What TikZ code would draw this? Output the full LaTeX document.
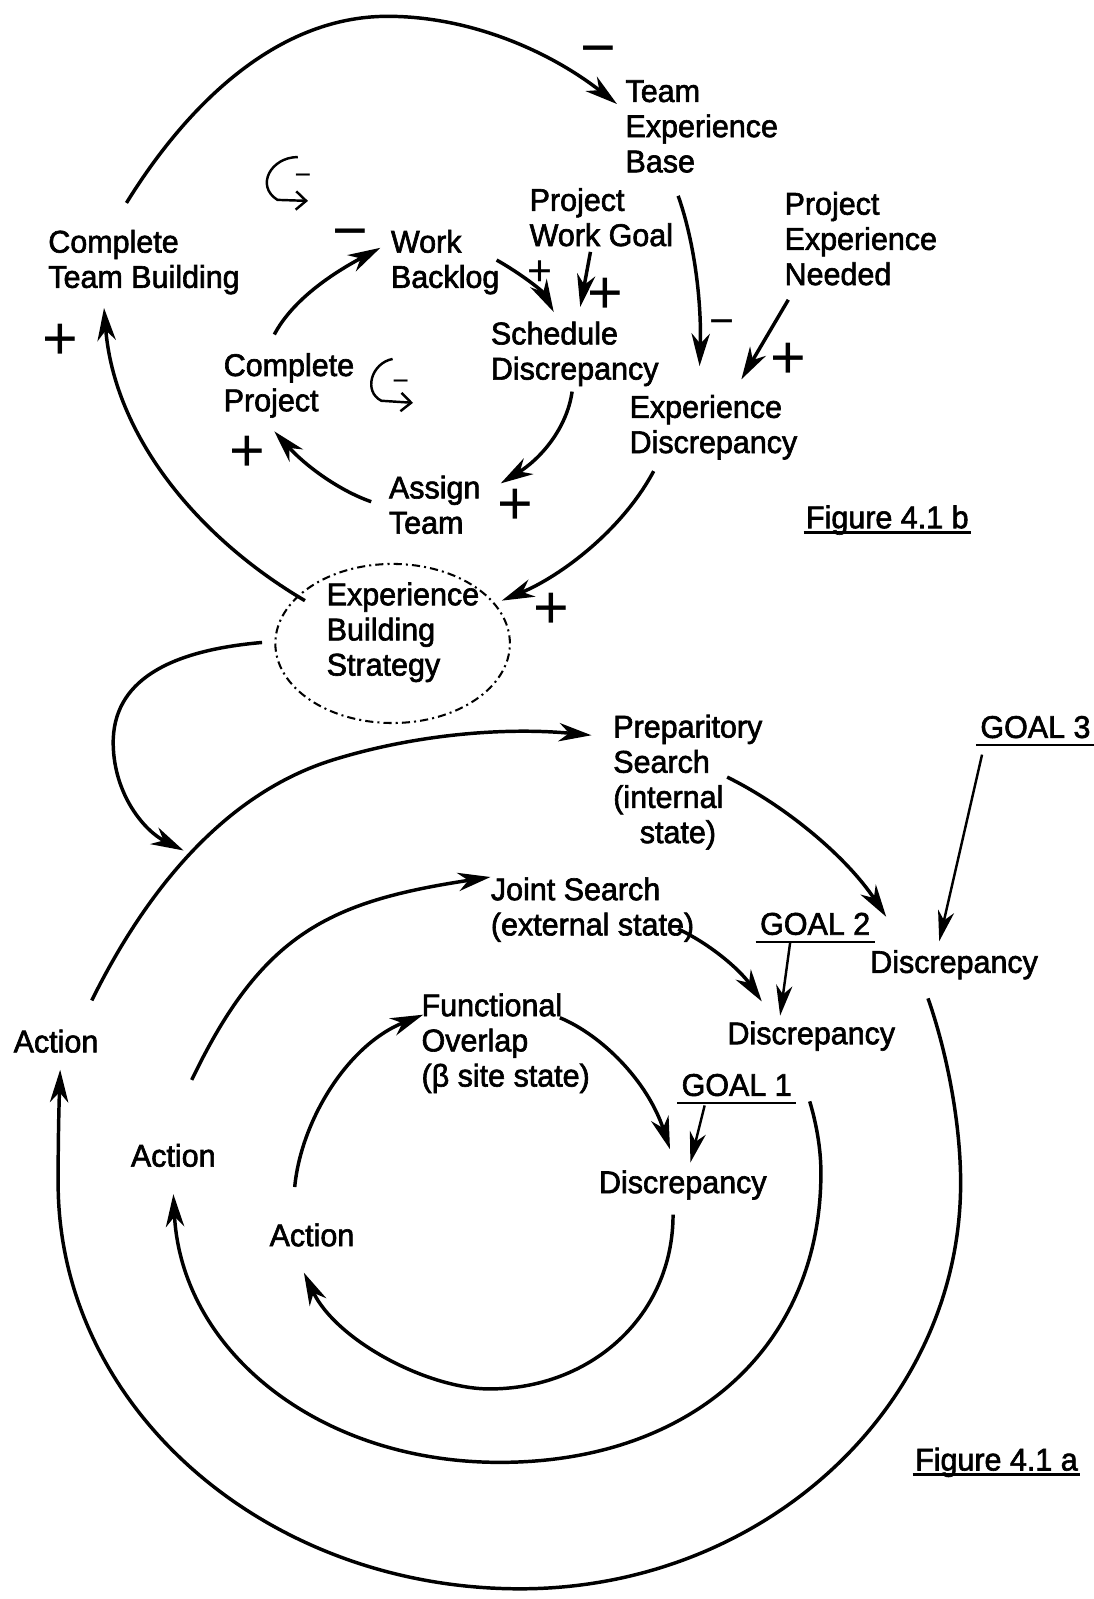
\documentclass[tikz,border=0pt]{standalone}
\usepackage{fontspec}
\newfontfamily\lblf{Liberation Sans}[FakeStretch=0.97,FakeBold=2]
\newfontfamily\sgnf{Liberation Sans}
\usetikzlibrary{arrows.meta,shapes.geometric}
\begin{document}
\begin{tikzpicture}[x=0.5pt,y=-0.5pt,
  lbl/.style={font=\lblf\fontsize{15.4}{17.25}\selectfont, align=left, anchor=west, inner sep=0pt},
  sg/.style={font=\sgnf\fontsize{30}{30}\selectfont, inner sep=0pt},
  sgs/.style={font=\sgnf\fontsize{21}{21}\selectfont, inner sep=0pt},
  sgt/.style={font=\sgnf\fontsize{14}{14}\selectfont, inner sep=0pt},
  cn/.style={line width=1.7pt, -{Stealth[length=16pt,width=9pt,inset=5pt]}},
  cnt/.style={line width=1.2pt, -{Stealth[length=15pt,width=8pt,inset=4.5pt]}},
  ul/.style={line width=1.2pt},
  lp/.style={line width=1.2pt, -{Straight Barb[length=5pt,width=9pt]}},
  ell/.style={draw, ellipse, line width=1pt, dash pattern=on 4pt off 2pt on 1pt off 2pt, minimum width=115pt, minimum height=78pt}
]
\useasboundingbox (0,0) rectangle (1072,1568);

% ---------- Figure 4.1 b ----------
\node[lbl] (teb) at (613,124) {Team\\Experience\\Base};
\node[lbl] (ctb) at (47,257) {Complete\\Team Building};
\node[lbl] (wb) at (383,257) {Work\\Backlog};
\node[lbl] (pwg) at (519,213) {Project\\Work Goal};
\node[lbl] (pen) at (769,234) {Project\\Experience\\Needed};
\node[lbl] (sd) at (481,347) {Schedule\\Discrepancy};
\node[lbl] (ed) at (617,419) {Experience\\Discrepancy};
\node[lbl] (cp) at (219,378) {Complete\\Project};
\node[lbl] (at) at (381,495) {Assign\\Team};
\node[ell] (ebs) at (385,631) {};
\node[lbl] (ebsl) at (320,620) {Experience\\Building\\Strategy};
\node[lbl] (figb) at (790,510) {Figure 4.1 b};
\draw[ul] ([shift={(-1pt,-2pt)}]figb.base west) -- ([shift={(1pt,-2pt)}]figb.base east);

% signs
\node[sg] (s1) at (59,335) {+};
\node[sg] (s2) at (243,445) {+};
\node[sg] (s3) at (505,497) {+};
\node[sgs] (s4) at (530,268) {+};
\node[sg] (s5) at (594,290) {+};
\node[sg] (s6) at (773,354) {+};
\node[sg] (s7) at (541,599) {+};
\node[sg] (m1) at (587,56) {−};
\node[sg] (m2) at (344,236) {−};
\node[sgs] (m3) at (708,321) {−};
\node[sgt] (lm1) at (297,176) {−};
\node[sgt] (lm2) at (393,378) {−};

% loop symbols
\draw[lp] (292,154) .. controls (266,154) and (250,182) .. (272,196) -- (302,197);
\draw[lp] (385,352) .. controls (364,356) and (356,384) .. (374,393) -- (405,395);

% connector end points
\coordinate (ctb-o) at (124,199);  \coordinate (teb-i) at (605,102);
\coordinate (teb-o) at (665,192);  \coordinate (ed-i1) at (686,359);
\coordinate (pen-o) at (773,294);  \coordinate (ed-i2) at (727,372);
\coordinate (wb-o) at (487,255);   \coordinate (sd-i1) at (543,306);
\coordinate (pwg-o) at (579,247);  \coordinate (sd-i2) at (569,301);
\coordinate (sd-o) at (561,384);   \coordinate (at-i) at (491,474);
\coordinate (at-o) at (364,492);   \coordinate (cp-i) at (269,423);
\coordinate (cp-o) at (269,328);   \coordinate (wb-i) at (373,243);
\coordinate (ed-o) at (641,462);   \coordinate (ebs-i) at (492,589);
\coordinate (ebs-o1) at (299,589); \coordinate (ctb-i) at (102,302);
\coordinate (ebs-o2) at (257,630); \coordinate (oring-i) at (180,834);

\draw[cn] (ctb-o) .. controls (182,105) and (270,16) .. (380,16) .. controls (462,16) and (540,51) .. (teb-i);
\draw[cn] (teb-o) .. controls (682,240) and (688,300) .. (ed-i1);
\draw[cn] (pen-o) -- (ed-i2);
\draw[cn] (wb-o) .. controls (510,268) and (532,285) .. (sd-i1);
\draw[cn] (pwg-o) -- (sd-i2);
\draw[cn] (sd-o) .. controls (556,420) and (530,450) .. (at-i);
\draw[cn] (at-o) .. controls (330,480) and (298,455) .. (cp-i);
\draw[cn] (cp-o) .. controls (288,292) and (330,266) .. (wb-i);
\draw[cn] (ed-o) .. controls (610,520) and (550,565) .. (ebs-i);
\draw[cn] (ebs-o1) .. controls (192,526) and (112,426) .. (ctb-i);
\draw[cn] (ebs-o2) .. controls (165,638) and (110,668) .. (111,730) .. controls (112,780) and (142,815) .. (oring-i);

% ---------- Figure 4.1 a ----------
\node[lbl] (prep) at (601,767) {Preparitory\\Search\\(internal\\\hspace*{13pt}state)};
\node[lbl] (g3) at (961,713) {GOAL 3};
\node[lbl] (d3) at (853,946) {Discrepancy};
\node[lbl] (a0) at (13,1021) {Action};
\node[lbl] (js) at (481,892) {Joint Search\\(external state)};
\node[lbl] (g2) at (745,906) {GOAL 2};
\node[lbl] (d2) at (713,1016) {Discrepancy};
\node[lbl] (fo) at (413,1023) {Functional\\Overlap\\(β site state)};
\node[lbl] (a1) at (128,1133) {Action};
\node[lbl] (g1) at (668,1064) {GOAL 1};
\node[lbl] (d1) at (587,1162) {Discrepancy};
\node[lbl] (a2) at (264,1211) {Action};
\node[lbl] (figa) at (897,1434) {Figure 4.1 a};

\foreach \n in {g3,g2,g1} \draw[ul] ([shift={(-2pt,-3.5pt)}]\n.base west) -- ([shift={(2pt,-3.5pt)}]\n.base east);
\draw[ul] ([shift={(-1pt,-2pt)}]figa.base west) -- ([shift={(1pt,-2pt)}]figa.base east);

\coordinate (a0-o) at (90,981);    \coordinate (prep-i) at (580,721);
\coordinate (prep-o) at (713,762); \coordinate (d3-i1) at (869,899);
\coordinate (g3-o) at (963,740);   \coordinate (d3-i2) at (921,923);
\coordinate (d3-o) at (910,979);   \coordinate (a0-i) at (59,1049);
\coordinate (a1-o) at (188,1059);  \coordinate (js-i) at (481,860);
\coordinate (js-o) at (665,911);   \coordinate (d2-i1) at (747,982);
\coordinate (g2-o) at (775,923);   \coordinate (d2-i2) at (765,996);
\coordinate (d2-o) at (794,1080);  \coordinate (a1-i) at (170,1171);
\coordinate (a2-o) at (289,1164);  \coordinate (fo-i) at (415,995);
\coordinate (fo-o) at (549,998);   \coordinate (d1-i1) at (657,1127);
\coordinate (g1-o) at (691,1084);  \coordinate (d1-i2) at (677,1140);
\coordinate (d1-o) at (660,1191);  \coordinate (a2-i) at (298,1248);

% outer ring
\draw[cn] (a0-o) .. controls (141,878) and (217,779) .. (327,745) .. controls (408,720) and (495,713) .. (prep-i);
\draw[cn] (prep-o) .. controls (770,790) and (830,840) .. (d3-i1);
\draw[cnt] (g3-o) -- (d3-i2);
\draw[cn] (d3-o) .. controls (928,1030) and (942,1100) .. (942,1160)
  .. controls (942,1380) and (748,1558) .. (510,1558)
  .. controls (260,1558) and (57,1380) .. (57,1160)
  .. controls (57,1110) and (58,1080) .. (a0-i);
% middle ring
\draw[cn] (a1-o) .. controls (257,915) and (323,884) .. (js-i);
\draw[cn] (js-o) .. controls (695,925) and (725,950) .. (d2-i1);
\draw[cnt] (g2-o) -- (d2-i2);
\draw[cn] (d2-o) .. controls (800,1100) and (805,1125) .. (805,1150)
  .. controls (805,1320) and (679,1434) .. (490,1434)
  .. controls (313,1434) and (178,1325) .. (a1-i);
% inner ring
\draw[cn] (a2-o) .. controls (295,1100) and (340,1025) .. (fo-i);
\draw[cn] (fo-o) .. controls (590,1015) and (635,1060) .. (d1-i1);
\draw[cnt] (g1-o) -- (d1-i2);
\draw[cn] (d1-o) .. controls (660,1290) and (580,1362) .. (480,1362)
  .. controls (420,1362) and (330,1315) .. (a2-i);
\end{tikzpicture}
\end{document}
